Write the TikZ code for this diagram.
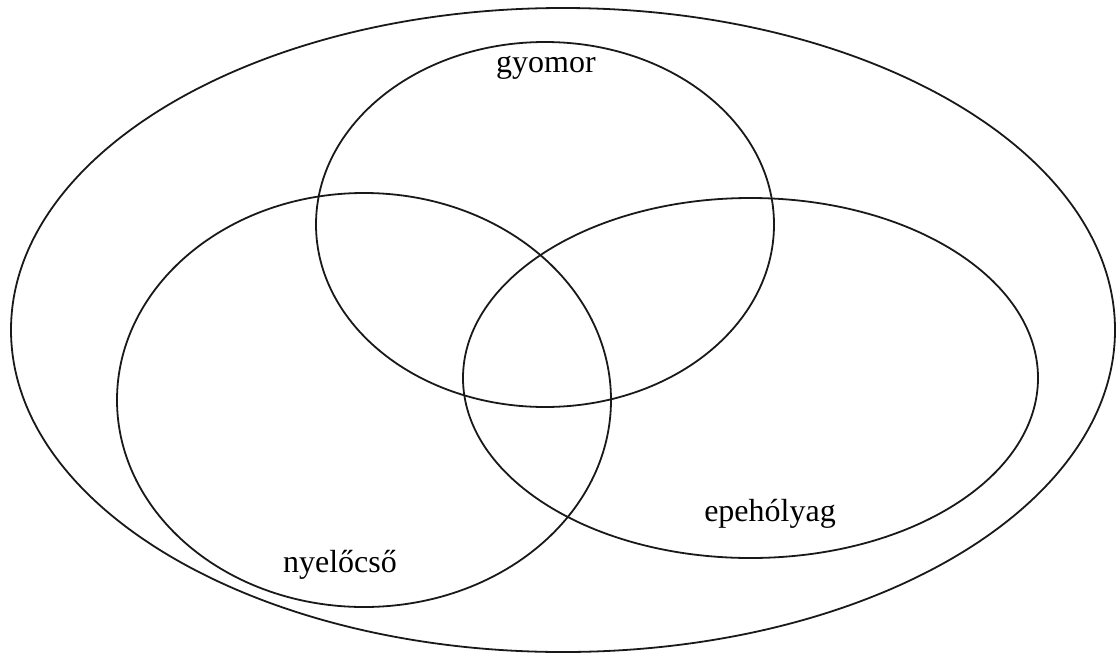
\documentclass[tikz,border=0pt]{standalone}
\usepackage{fontspec}
\setmainfont{Liberation Serif}
\begin{document}
\begin{tikzpicture}[x=1pt,y=-1pt,
  ring/.style={draw=black!90,line width=1.8pt},
  lbl/.style={anchor=base,inner sep=0pt,font=\fontsize{32}{38}\selectfont}]
\useasboundingbox (0,0) rectangle (1116,654);
\draw[ring] (563,330) ellipse [x radius=552, y radius=322];
\draw[ring] (545,224.5) ellipse [x radius=229, y radius=182.5];
\draw[ring] (364,400) ellipse [x radius=247, y radius=207];
\draw[ring] (750.5,378) ellipse [x radius=287.5, y radius=180];
\node[lbl] (g) at (546,72) {gyomor};
\node[lbl] (e) at (770,521) {epehólyag};
\node[lbl] (n) at (340,572) {nyelőcső};
\end{tikzpicture}
\end{document}
